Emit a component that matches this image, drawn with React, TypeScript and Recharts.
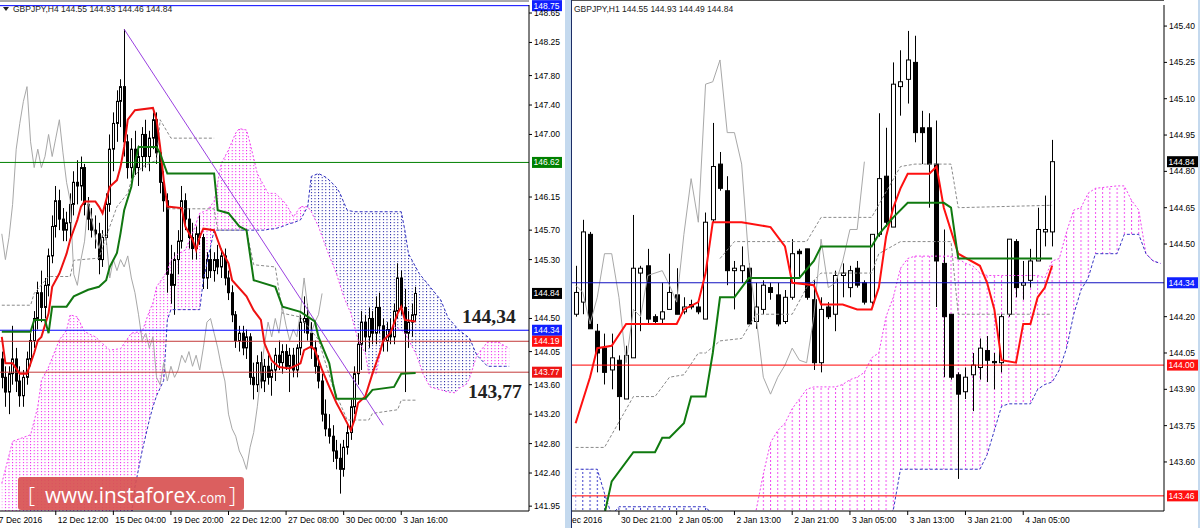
import React from 'react';
import { ComposedChart, Bar, Line, Area, XAxis, YAxis, ReferenceLine } from 'recharts';

const FONT = '"Liberation Sans", Arial, sans-serif';

// ================= LEFT PANEL: GBPJPY H4 =================
const h4Open = [143.95,143.70,143.50,143.75,143.95,143.65,143.45,143.70,143.95,144.20,
144.50,144.85,144.65,144.95,145.35,145.75,146.10,145.85,145.70,145.80,
146.05,146.35,146.30,146.55,146.05,145.85,145.70,145.65,145.30,145.60,
146.05,146.80,147.15,147.45,147.65,146.90,146.55,146.80,146.55,146.70,
147.00,146.70,146.95,147.20,146.75,146.35,146.10,145.10,144.95,145.30,
145.55,146.10,145.85,145.60,145.45,145.65,145.60,145.05,145.30,145.15,
145.30,145.20,145.35,145.05,144.85,144.55,144.20,144.30,144.10,144.25,
143.70,143.60,143.90,143.65,143.85,143.70,143.80,144.00,143.90,144.05,
143.85,144.00,143.80,144.10,144.45,144.50,144.30,144.10,143.85,143.65,
143.20,143.00,142.90,142.70,142.60,142.45,142.75,142.95,143.30,143.75,
144.15,144.45,144.25,144.50,144.30,144.65,144.40,144.20,144.35,144.25,
144.60,145.05,144.65,144.30,144.45,144.55];
const h4High = [144.05,143.85,143.85,144.40,144.10,143.85,143.80,144.05,144.30,144.60,
145.00,145.15,145.05,145.45,145.90,146.30,146.25,146.00,145.95,146.20,
146.50,146.65,146.70,146.60,146.15,146.00,145.90,145.80,145.70,146.20,
147.00,147.30,147.60,147.75,148.43,147.00,146.95,147.05,146.85,147.10,
147.20,147.05,147.30,147.30,146.80,146.50,146.20,145.50,145.40,145.70,
146.30,146.20,146.00,145.80,145.75,145.90,145.65,145.40,145.45,145.40,
145.50,145.45,145.45,145.15,144.95,144.60,144.40,144.40,144.35,144.30,
143.90,144.00,144.05,143.95,144.00,143.90,144.10,144.20,144.15,144.15,
144.10,144.10,144.15,144.55,144.80,144.70,144.45,144.20,144.00,143.75,
143.40,143.20,143.05,142.85,142.80,142.85,143.05,143.40,143.85,144.30,
144.60,144.55,144.65,144.60,144.80,144.85,144.50,144.45,144.50,144.70,
145.25,145.15,144.90,144.60,144.70,144.93];
const h4Low = [143.55,143.30,143.20,143.60,143.50,143.30,143.30,143.60,143.85,144.10,
144.35,144.45,144.50,144.80,145.25,145.60,145.70,145.55,145.55,145.60,
145.90,146.05,146.10,145.90,145.70,145.60,145.45,145.10,145.20,145.50,
145.95,146.50,146.90,147.10,146.70,146.40,146.40,146.45,146.30,146.50,
146.55,146.50,146.80,146.60,146.20,145.95,144.85,144.70,144.55,145.10,
145.45,145.70,145.45,145.30,145.30,145.50,144.90,144.90,145.05,145.00,
145.10,145.05,144.95,144.75,144.45,144.10,144.05,144.00,143.95,143.60,
143.40,143.50,143.55,143.50,143.60,143.45,143.65,143.80,143.75,143.80,
143.50,143.70,143.70,144.00,144.30,144.20,143.95,143.75,143.55,143.10,
142.90,142.80,142.55,142.45,142.12,142.35,142.65,142.85,143.20,143.60,
143.80,144.05,144.10,144.15,144.15,144.30,144.05,144.05,144.15,144.15,
144.50,144.55,143.50,144.10,144.25,144.46];
const h4Close = [143.70,143.50,143.75,143.95,143.65,143.45,143.70,143.95,144.20,144.50,
144.85,144.65,144.95,145.35,145.75,146.10,145.85,145.70,145.80,146.05,
146.35,146.30,146.55,146.05,145.85,145.70,145.65,145.30,145.60,146.05,
146.80,147.15,147.45,147.65,146.90,146.55,146.80,146.55,146.70,147.00,
146.70,146.95,147.20,146.75,146.35,146.10,145.10,144.95,145.30,145.55,
146.10,145.85,145.60,145.45,145.65,145.60,145.05,145.30,145.15,145.30,
145.20,145.35,145.05,144.85,144.55,144.20,144.30,144.10,144.25,143.70,
143.60,143.90,143.65,143.85,143.70,143.80,144.00,143.90,144.05,143.85,
144.00,143.80,144.10,144.45,144.50,144.30,144.10,143.85,143.65,143.20,
143.00,142.90,142.70,142.60,142.45,142.75,142.95,143.30,143.75,144.15,
144.45,144.25,144.50,144.30,144.65,144.40,144.20,144.35,144.25,144.60,
145.05,144.65,144.30,144.45,144.55,144.84];

const h4Tenkan: [number, number][] = [[0,144.25],[1,143.89],[3,143.89],[5,143.75],[7,143.75],[9,144.03],[10,144.20],[11,144.25],[13,144.57],[14,144.93],[16,145.11],[18,145.38],[19,145.57],[21,145.84],[22,146.02],[23,146.09],[26,146.09],[27,146.02],[28,145.93],[29,146.11],[30,146.29],[32,146.38],[33,146.56],[34,146.83],[35,147.20],[37,147.33],[42,147.36],[43,147.20],[44,146.83],[45,146.38],[46,146.02],[50,146.00],[51,145.75],[53,145.57],[54,145.43],[55,145.61],[56,145.72],[59,145.70],[61,145.43],[63,145.25],[64,145.02],[68,144.80],[70,144.61],[72,144.48],[73,144.16],[75,143.93],[77,143.84],[80,143.82],[83,143.89],[84,144.07],[86,144.12],[87,144.07],[89,143.80],[91,143.57],[93,143.35],[95,143.17],[97,142.98],[98,143.12],[99,143.35],[101,143.44],[103,143.75],[105,144.03],[106,144.20],[108,144.30],[110,144.57],[111,144.66],[112,144.48],[115,144.46]];
const h4Kijun: [number, number][] = [[0,144.32],[8,144.32],[9,144.48],[12,144.48],[13,144.30],[14,144.66],[18,144.66],[20,144.80],[24,144.89],[27,144.93],[29,145.02],[30,145.20],[32,145.39],[33,145.66],[34,145.97],[36,146.29],[37,146.61],[38,146.83],[43,146.83],[44,146.74],[46,146.47],[59,146.47],[60,145.97],[63,145.93],[66,145.75],[68,145.70],[70,145.02],[76,144.93],[78,144.66],[83,144.59],[87,144.46],[88,144.25],[91,143.89],[92,143.62],[93,143.41],[101,143.41],[103,143.53],[109,143.57],[111,143.75],[115,143.76]];
const h4Dash1: [number, number][] = [[0,144.68],[8,144.68],[9,144.84],[13,145.07],[19,145.07],[20,145.29],[27,145.32],[29,145.61],[32,146.02],[35,146.20],[36,146.38],[39,146.56],[43,146.65],[44,147.20],[47,146.95],[59,146.95]];
const h4Dash2: [number, number][] = [[46,145.99],[59,145.99],[60,145.70],[68,145.70],[70,145.23],[76,145.20],[78,144.57],[83,144.52],[88,144.21],[92,143.57],[96,143.12],[102,143.12],[103,143.21],[110,143.26],[111,143.39],[115,143.39]];
// [bar, senkou span A, senkou span B]
const h4Cloud: [number, number, number][] = [[0,142.26,141.60],[3,142.83,141.62],[8,142.92,141.65],[10,143.30,141.66],[11,143.66,141.67],[13,143.84,141.68],[16,144.21,141.70],[18,144.34,141.70],[19,144.55,141.70],[21,144.52,141.72],[23,144.32,141.74],[26,144.25,141.76],[30,144.07,141.78],[33,144.09,141.79],[36,144.30,141.80],[37,144.31,142.21],[39,144.32,142.70],[41,144.60,143.12],[42,144.71,143.30],[43,144.93,143.45],[45,145.07,143.66],[46,145.15,144.48],[47,145.29,144.62],[49,145.38,144.62],[51,145.43,144.62],[53,145.66,144.62],[55,145.93,144.62],[56,145.95,145.02],[57,145.97,145.25],[59,146.09,145.70],[61,146.61,145.70],[63,146.79,145.70],[65,147.02,145.70],[66,147.08,145.70],[68,147.06,145.70],[69,146.88,145.70],[71,146.47,145.70],[73,146.29,145.70],[74,146.20,145.71],[76,146.20,145.72],[78,146.11,145.75],[79,146.05,145.77],[80,145.97,145.79],[81,145.88,145.80],[83,146.02,145.84],[85,146.02,146.02],[86,145.95,146.43],[88,145.75,146.47],[90,145.48,146.42],[91,145.35,146.38],[93,145.11,146.28],[94,144.95,146.20],[95,144.80,146.08],[96,144.68,145.97],[97,144.57,145.96],[98,144.39,145.95],[99,144.21,145.95],[101,144.03,145.95],[102,143.75,145.95],[104,143.75,145.95],[106,144.21,145.95],[109,144.39,145.95],[111,144.34,145.95],[112,144.30,145.70],[113,144.21,145.38],[115,144.03,145.20],[116,143.90,145.11],[117,143.75,145.05],[119,143.57,144.93],[122,143.53,144.75],[124,143.50,144.51],[126,143.49,144.40],[127,143.55,144.34],[129,143.60,144.27],[130,143.69,144.23],[132,144.00,144.00],[135,144.18,143.85],[138,144.18,143.85],[140,144.12,143.85],[141,144.10,143.85]];
const h4YTicks = [148.65,148.25,147.80,147.40,147.00,146.15,145.70,145.30,144.50,144.05,143.60,143.20,142.80,142.40,141.95];
const h4TimeBars = [0,15,31,47,63,79,95,111];
const h4TimeLabels = ['7 Dec 2016','12 Dec 12:00','15 Dec 04:00','19 Dec 20:00','22 Dec 12:00','27 Dec 08:00','30 Dec 00:00','3 Jan 16:00'];
const h4Levels = [148.75, 146.62, 144.34, 144.19, 143.77];
const h4LevelLine = ['#0000ff', '#008000', '#0000ff', '#c43a3a', '#c43a3a'];
const h4LevelBox = ['#1020ff', '#008000', '#1020ff', '#ff1010', '#ee1515'];
const h4Trend = [{ x: 34, y: 148.43 }, { x: 106, y: 143.05 }];
const lastPrice = 144.84;

// ================= RIGHT PANEL: GBPJPY H1 =================
const h1Open = [144.21,144.26,144.54,144.14,144.07,143.98,144.02,143.86,144.03,144.38,
144.41,144.20,144.19,144.23,144.29,144.22,144.25,144.24,144.19,144.60,
144.83,144.72,144.39,144.39,144.40,144.18,144.23,144.32,144.29,144.18,
144.28,144.47,144.48,144.27,144.01,144.24,144.21,144.37,144.32,144.40,
144.34,144.26,144.54,144.78,144.57,145.15,145.18,145.25,144.98,144.98,
144.83,144.42,144.21,143.96,143.89,143.96,143.99,144.06,144.015,144.01,
144.21,144.51,144.33,144.35,144.43,144.55,144.55];
const h1High = [144.41,144.60,144.55,144.17,144.13,144.13,144.04,144.08,144.62,144.41,
144.48,144.21,144.34,144.46,144.40,144.28,144.27,144.26,144.63,145.00,
144.88,144.78,144.43,144.49,144.42,144.34,144.35,144.34,144.34,144.31,
144.52,144.48,144.48,144.35,144.28,144.26,144.39,144.42,144.41,144.43,
144.35,144.54,145.04,144.98,145.25,145.30,145.38,145.36,145.05,145.04,
145.01,144.56,144.21,143.97,143.99,144.05,144.11,144.12,144.05,144.21,
144.52,144.52,144.43,144.48,144.65,144.70,144.93];
const h1Low = [144.20,144.21,144.15,143.97,143.92,143.90,143.73,143.86,144.03,144.14,
144.17,144.17,144.17,144.23,144.21,144.21,144.23,144.21,144.19,144.59,
144.72,144.33,144.23,144.34,144.17,144.15,144.21,144.27,144.16,144.17,
144.27,144.36,144.27,143.98,143.97,144.19,144.14,144.28,144.28,144.32,
144.25,144.25,144.53,144.57,144.57,145.03,145.08,144.92,144.83,144.65,
144.24,143.95,143.94,143.53,143.86,143.81,143.94,143.93,143.90,143.97,
144.20,144.28,144.27,144.32,144.43,144.49,144.49];
const h1Close = [144.30,144.55,144.15,144.05,143.97,144.03,143.87,144.04,144.40,144.40,
144.19,144.18,144.22,144.30,144.21,144.24,144.24,144.22,144.59,144.82,
144.73,144.39,144.40,144.41,144.17,144.24,144.33,144.30,144.17,144.28,
144.46,144.46,144.28,144.01,144.23,144.20,144.37,144.38,144.39,144.33,
144.26,144.54,144.77,144.59,145.16,145.17,145.26,144.96,144.96,144.83,
144.43,144.20,143.95,143.88,143.95,144.00,144.07,144.02,144.01,144.20,
144.52,144.32,144.34,144.43,144.56,144.56,144.84];
const h1Tenkan: [number, number][] = [[0,143.76],[2,143.95],[3,144.07],[5,144.08],[7,144.17],[14,144.17],[15,144.23],[17,144.26],[18,144.38],[19,144.59],[23,144.59],[27,144.57],[29,144.49],[30,144.34],[33,144.33],[34,144.25],[37,144.25],[39,144.23],[41,144.23],[42,144.32],[43,144.53],[44,144.65],[45,144.73],[46,144.79],[49,144.79],[50,144.82],[51,144.65],[53,144.46],[56,144.41],[57,144.34],[58,144.23],[59,144.02],[61,144.01],[62,144.17],[63,144.17],[64,144.28],[65,144.32],[66,144.41]];
const h1Kijun: [number, number][] = [[3,143.25],[5,143.52],[8,143.64],[11,143.64],[12,143.70],[13,143.70],[15,143.76],[16,143.87],[18,143.87],[19,144.05],[20,144.28],[22,144.28],[23,144.32],[24,144.36],[31,144.36],[33,144.43],[34,144.49],[41,144.49],[42,144.54],[44,144.61],[46,144.67],[51,144.67],[52,144.65],[53,144.44],[66,144.44]];
const h1Dash1: [number, number][] = [[0,143.66],[4,143.66],[8,143.87],[11,143.87],[13,143.95],[15,143.96],[17,144.05],[18,144.05],[20,144.10],[23,144.11],[25,144.21],[30,144.21],[32,144.32],[34,144.38],[41,144.38],[42,144.46],[45,144.51],[52,144.51],[53,144.21],[66,144.21]];
const h1Dash2: [number, number][] = [[20,144.44],[22,144.51],[32,144.51],[34,144.61],[41,144.61],[45,144.82],[47,144.83],[52,144.83],[53,144.65],[66,144.66]];
const h1Cloud: [number, number, number][] = [[0,143.20,143.57],[3,143.20,143.57],[4,143.20,143.47],[5,143.20,143.38],[6,143.20,143.415],[18,143.22,143.415],[19,143.25,143.38],[22,143.30,143.34],[24,143.33,143.33],[25,143.40,143.30],[26,143.55,143.30],[27,143.68,143.30],[28,143.73,143.30],[29,143.76,143.30],[30,143.82,143.30],[31,143.86,143.30],[32,143.90,143.30],[33,143.91,143.30],[36,143.91,143.31],[37,143.92,143.32],[38,143.94,143.33],[39,143.95,143.34],[40,143.97,143.35],[41,144.03,143.36],[42,144.05,143.37],[43,144.20,143.38],[44,144.28,143.40],[45,144.40,143.57],[46,144.44,143.57],[47,144.45,143.57],[52,144.45,143.57],[53,144.44,143.57],[54,144.42,143.57],[55,144.41,143.57],[56,144.38,143.57],[57,144.37,143.63],[58,144.37,143.73],[59,144.37,143.83],[60,144.37,143.84],[63,144.37,143.84],[64,144.37,143.90],[65,144.36,143.92],[66,144.43,143.93],[67,144.44,143.98],[68,144.55,144.07],[69,144.64,144.21],[70,144.65,144.31],[71,144.71,144.36],[72,144.73,144.46],[75,144.74,144.46],[76,144.74,144.54],[77,144.68,144.54],[78,144.64,144.54],[79,144.46,144.46],[80,144.43,144.43],[81,144.42,144.42]];
const h1YTicks = [145.40,145.25,145.10,144.95,144.80,144.65,144.50,144.20,144.05,143.90,143.75,143.60];
const h1TimeBars = [0,6,14,22,30,38,46,54,62];
const h1TimeLabels = ['30 Dec 2016','30 Dec 21:00','2 Jan 05:00','2 Jan 13:00','2 Jan 21:00','3 Jan 05:00','3 Jan 13:00','3 Jan 21:00','4 Jan 05:00'];
const h1Levels = [144.34, 144.00, 143.46];
const h1LevelLine = ['#1010c0', '#ff0000', '#ff0000'];
const h1LevelBox = ['#1020ff', '#ff1010', '#ff1010'];

// ================= helpers =================
type Row = Record<string, any>;
function buildRows(n: number, o: number[], h: number[], l: number[], c: number[],
  series: Record<string, [number, number][]>, cloud: [number, number, number][], lag: number) {
  const rows: Row[] = [];
  for (let k = 0; k < n; k++) rows.push({ k });
  o.forEach((v, i) => {
    rows[i].o = v; rows[i].h = h[i]; rows[i].l = l[i]; rows[i].c = c[i];
    rows[i].range = [l[i], h[i]];
  });
  c.forEach((v, i) => { if (i - lag >= 0) rows[i - lag].chikou = v; });
  Object.keys(series).forEach((key) => series[key].forEach(([k, v]) => { if (rows[k]) rows[k][key] = v; }));
  cloud.forEach(([k, a, b]) => { if (rows[k]) { rows[k].spanA = a; rows[k].spanB = b; } });
  const segs: { key: string; bull: boolean }[] = [];
  let cur = -1;
  let curBull: boolean | null = null;
  for (let i = 0; i < cloud.length - 1; i++) {
    const [k0, a0, b0] = cloud[i];
    const [k1, a1, b1] = cloud[i + 1];
    const bull = (a0 - b0) + (a1 - b1) >= 0;
    if (bull !== curBull) {
      cur++; curBull = bull;
      segs.push({ key: 'cloud' + cur, bull });
      rows[k0]['cloud' + cur] = [Math.min(a0, b0), Math.max(a0, b0)];
    }
    rows[k1]['cloud' + cur] = [Math.min(a1, b1), Math.max(a1, b1)];
  }
  return { rows, segs };
}

const Candle = (props: any) => {
  const { x, y, width, height, payload, bw } = props;
  if (!payload || payload.o == null || x == null || y == null) return null;
  const top = Math.min(y, y + height);
  const bot = Math.max(y, y + height);
  const { o, h, l, c } = payload;
  const py = (p: number) => top + ((h - p) / (h - l)) * (bot - top);
  const cx = Math.round(x + width / 2) + 0.5;
  const bt = py(Math.max(o, c));
  const bb = py(Math.min(o, c));
  const bull = c >= o;
  const half = (bw - 1) / 2;
  return (
    <g>
      <line x1={cx} x2={cx} y1={top} y2={bot} stroke="#000" strokeWidth={1} />
      <rect x={cx - half} y={bt} width={bw - 1} height={Math.max(0.5, bb - bt)}
        fill={bull ? '#fff' : '#000'} stroke="#000" strokeWidth={1} />
    </g>
  );
};

const PriceTag = (props: any) => {
  const { viewBox, text, bg, w } = props;
  if (!viewBox) return null;
  const x = viewBox.x + viewBox.width + 3;
  const y = viewBox.y;
  return (
    <g>
      <rect x={x} y={y - 5.5} width={w} height={11} fill={bg} />
      <text x={x + 1.5} y={y} dy="0.35em" fontSize={8.5} fill="#fff" fontFamily={FONT}>{text}</text>
    </g>
  );
};

const TimeTick = (props: any) => {
  const { x, y, payload, bars, labels, firstDx } = props;
  const i = bars.indexOf(payload.value);
  if (i < 0) return null;
  const axisY = y - 3;
  if (i === 0) {
    return <text x={x + firstDx} y={axisY + 12} fontSize={8.5} fill="#000" fontFamily={FONT}>{labels[i]}</text>;
  }
  return (
    <g>
      <line x1={x} x2={x} y1={axisY} y2={axisY + 4} stroke="#000" />
      <text x={x + 2} y={axisY + 12} fontSize={8.5} fill="#000" fontFamily={FONT}>{labels[i]}</text>
    </g>
  );
};

const LEFT_DOMAIN: [number, number] = [141.884, 148.759];
const RIGHT_DOMAIN: [number, number] = [143.3975, 145.487];

export default function App() {
  const L = buildRows(147, h4Open, h4High, h4Low, h4Close, { tenkan: h4Tenkan, kijun: h4Kijun, d1: h4Dash1, d2: h4Dash2 }, h4Cloud, 26);
  const R = buildRows(82, h1Open, h1High, h1Low, h1Close, { tenkan: h1Tenkan, kijun: h1Kijun, d1: h1Dash1, d2: h1Dash2 }, h1Cloud, 26);

  return (
    <div style={{ position: 'absolute', left: 0, top: 0, width: 1200, height: 528, background: '#fff', overflow: 'hidden' }}>
      {/* LEFT CHART */}
      <div style={{ position: 'absolute', left: 0, top: 0, width: 566, height: 528, overflow: 'hidden' }}>
        <ComposedChart width={566} height={528} data={L.rows} margin={{ top: 5, right: 0, bottom: 0, left: 0 }}>
          <defs>
            <pattern id="pinkL" patternUnits="userSpaceOnUse" x={1.3} y={0} width={3.6} height={3}>
              <rect x={0} y={0} width={1} height={1.2} fill="#f028f0" />
            </pattern>
            <pattern id="blueL" patternUnits="userSpaceOnUse" x={1.3} y={0} width={3.6} height={3}>
              <rect x={0} y={0} width={1} height={1.2} fill="#2828a8" />
            </pattern>
          </defs>
          <XAxis dataKey="k" type="category" ticks={h4TimeBars} interval={0} height={17}
            tickSize={3} tickMargin={0} tickLine={false} axisLine={{ stroke: '#000' }}
            tick={(p: any) => <TimeTick {...p} bars={h4TimeBars} labels={h4TimeLabels} firstDx={-3} />} />
          <YAxis orientation="right" width={37} domain={LEFT_DOMAIN} allowDataOverflow type="number"
            ticks={h4YTicks} interval={0} tickSize={3} tickMargin={2}
            axisLine={{ stroke: '#000' }} tickLine={{ stroke: '#000' }}
            tick={{ fontSize: 8.5, fill: '#000', fontFamily: FONT }}
            tickFormatter={(v: number) => v.toFixed(2)} />
          {L.segs.map((s) => (
            <Area key={s.key} dataKey={s.key} type="linear" stroke="none" fill={s.bull ? 'url(#pinkL)' : 'url(#blueL)'}
              fillOpacity={1} connectNulls isAnimationActive={false} dot={false} activeDot={false} />
          ))}
          <Line dataKey="spanA" stroke="#f040f0" strokeWidth={1} strokeDasharray="2 2" dot={false} connectNulls isAnimationActive={false} />
          <Line dataKey="spanB" stroke="#3030c0" strokeWidth={1} strokeDasharray="3 2" dot={false} connectNulls isAnimationActive={false} />
          <Line dataKey="d1" stroke="#8a8a8a" strokeWidth={1} strokeDasharray="3 2" dot={false} connectNulls isAnimationActive={false} />
          <Line dataKey="d2" stroke="#8a8a8a" strokeWidth={1} strokeDasharray="3 2" dot={false} connectNulls isAnimationActive={false} />
          <Line dataKey="chikou" stroke="#a8a8a8" strokeWidth={1} dot={false} connectNulls isAnimationActive={false} />
          {h4Levels.map((v, i) => (
            <ReferenceLine key={'l' + i} y={v} stroke={h4LevelLine[i]} strokeWidth={1}
              label={<PriceTag text={v.toFixed(2)} bg={h4LevelBox[i]} w={30} />} />
          ))}
          <ReferenceLine y={lastPrice} stroke="none" label={<PriceTag text={lastPrice.toFixed(2)} bg="#000" w={30} />} />
          <ReferenceLine segment={h4Trend} stroke="#9a40e0" strokeWidth={1} />
          <Bar dataKey="range" barSize={3} isAnimationActive={false}
            shape={(p: any) => <Candle {...p} bw={3} />} />
          <Line dataKey="tenkan" stroke="#ee1111" strokeWidth={2} dot={false} connectNulls isAnimationActive={false} />
          <Line dataKey="kijun" stroke="#117711" strokeWidth={2} dot={false} connectNulls isAnimationActive={false} />
        </ComposedChart>
      </div>

      {/* RIGHT CHART */}
      <div style={{ position: 'absolute', left: 571, top: 0, width: 629, height: 528, overflow: 'hidden' }}>
        <ComposedChart width={629} height={528} data={R.rows} margin={{ top: 5, right: 0, bottom: 0, left: 1 }}>
          <defs>
            <pattern id="pinkR" patternUnits="userSpaceOnUse" x={4.1} y={0} width={7.22} height={4}>
              <rect x={0} y={0} width={1} height={2} fill="#f050f0" />
            </pattern>
            <pattern id="blueR" patternUnits="userSpaceOnUse" x={4.1} y={0} width={7.22} height={4}>
              <rect x={0} y={0} width={1} height={2} fill="#3838c8" />
            </pattern>
          </defs>
          <XAxis dataKey="k" type="category" ticks={h1TimeBars} interval={0} height={17}
            tickSize={3} tickMargin={0} tickLine={false} axisLine={{ stroke: '#000' }}
            tick={(p: any) => <TimeTick {...p} bars={h1TimeBars} labels={h1TimeLabels} firstDx={-21.6} />} />
          <YAxis orientation="right" width={36} domain={RIGHT_DOMAIN} allowDataOverflow type="number"
            ticks={h1YTicks} interval={0} tickSize={3} tickMargin={2}
            axisLine={{ stroke: '#000' }} tickLine={{ stroke: '#000' }}
            tick={{ fontSize: 8.5, fill: '#000', fontFamily: FONT }}
            tickFormatter={(v: number) => v.toFixed(2)} />
          {R.segs.map((s) => (
            <Area key={s.key} dataKey={s.key} type="linear" stroke="none" fill={s.bull ? 'url(#pinkR)' : 'url(#blueR)'}
              fillOpacity={1} connectNulls isAnimationActive={false} dot={false} activeDot={false} />
          ))}
          <Line dataKey="spanA" stroke="#f040f0" strokeWidth={1} strokeDasharray="2 2" dot={false} connectNulls isAnimationActive={false} />
          <Line dataKey="spanB" stroke="#3434c4" strokeWidth={1} strokeDasharray="3 2" dot={false} connectNulls isAnimationActive={false} />
          <Line dataKey="d1" stroke="#8a8a8a" strokeWidth={1} strokeDasharray="3 2" dot={false} connectNulls isAnimationActive={false} />
          <Line dataKey="d2" stroke="#8a8a8a" strokeWidth={1} strokeDasharray="3 2" dot={false} connectNulls isAnimationActive={false} />
          <Line dataKey="chikou" stroke="#a8a8a8" strokeWidth={1} dot={false} connectNulls isAnimationActive={false} />
          {h1Levels.map((v, i) => (
            <ReferenceLine key={'r' + i} y={v} stroke={h1LevelLine[i]} strokeWidth={1}
              label={<PriceTag text={v.toFixed(2)} bg={h1LevelBox[i]} w={31} />} />
          ))}
          <ReferenceLine y={lastPrice} stroke="none" label={<PriceTag text={lastPrice.toFixed(2)} bg="#000" w={31} />} />
          <Bar dataKey="range" barSize={5} isAnimationActive={false}
            shape={(p: any) => <Candle {...p} bw={5} />} />
          <Line dataKey="tenkan" stroke="#ff1010" strokeWidth={2} dot={false} connectNulls isAnimationActive={false} />
          <Line dataKey="kijun" stroke="#0f7a0f" strokeWidth={2} dot={false} connectNulls isAnimationActive={false} />
        </ComposedChart>
      </div>

      {/* OVERLAY: frames, headers, annotations, logo */}
      <svg width={1200} height={528} style={{ position: 'absolute', left: 0, top: 0, pointerEvents: 'none' }}>
        <rect x={565} y={0} width={6} height={528} fill="#c4d9ee" />
        <rect x={1198} y={0} width={2} height={528} fill="#c4d9ee" />
        <line x1={0} y1={1} x2={529} y2={1} stroke="#555" />
        <line x1={571} y1={0.5} x2={1164} y2={0.5} stroke="#555" />
        <line x1={571.5} y1={0} x2={571.5} y2={528} stroke="#1c2c66" />
        <polygon points="3,7 9,7 6,11" fill="#222" />
        <text x={13} y={12} fontSize={8.5} fill="#222" fontFamily={FONT}>GBPJPY,H4  144.55 144.93 144.46 144.84</text>
        <text x={574} y={12} fontSize={8.5} fill="#222" fontFamily={FONT}>GBPJPY,H1  144.55 144.93 144.49 144.84</text>
        <text x={462} y={323} fontSize={19.5} fontWeight="bold" fill="#222" fontFamily='"Liberation Serif", "Times New Roman", serif'>144,34</text>
        <text x={468} y={398} fontSize={19.5} fontWeight="bold" fill="#222" fontFamily='"Liberation Serif", "Times New Roman", serif'>143,77</text>
        <rect x={18} y={477} width={226} height={33} rx={3} fill="#d85353" opacity={0.93} />
        <text x={28} y={503} fontSize={22} fill="#fff" fontFamily='"Open Sans", sans-serif' fontWeight={300}>[</text>
        <text x={45} y={503} fontSize={21} fill="#fff" fontFamily='"Open Sans", sans-serif' textLength={151} lengthAdjust="spacingAndGlyphs">www.instaforex</text>
        <text x={197} y={503} fontSize={15} fill="#fff" fontFamily='"Open Sans", sans-serif' textLength={29} lengthAdjust="spacingAndGlyphs">.com</text>
        <text x={229} y={503} fontSize={22} fill="#fff" fontFamily='"Open Sans", sans-serif' fontWeight={300}>]</text>
      </svg>
    </div>
  );
}
